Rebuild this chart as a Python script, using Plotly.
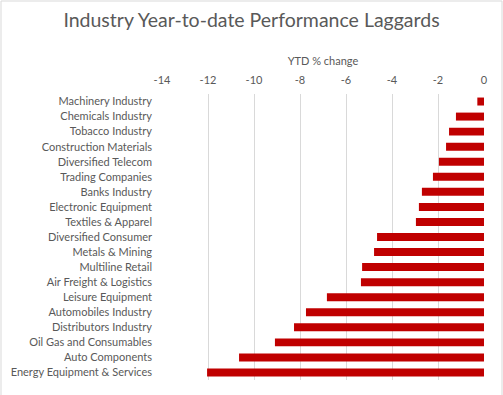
import plotly.graph_objects as go

categories = ["Machinery Industry", "Chemicals Industry", "Tobacco Industry", "Construction Materials",
              "Diversified Telecom", "Trading Companies", "Banks Industry", "Electronic Equipment",
              "Textiles & Apparel", "Diversified Consumer", "Metals & Mining", "Multiline Retail",
              "Air Freight & Logistics", "Leisure Equipment", "Automobiles Industry", "Distributors Industry",
              "Oil Gas and Consumables", "Auto Components", "Energy Equipment & Services"]
ytd_change = [-0.29, -1.22, -1.52, -1.65, -1.96, -2.22, -2.70, -2.83, -2.96, -4.65, -4.78, -5.30,
              -5.35, -6.83, -7.74, -8.26, -9.09, -10.65, -12.04]
tick_vals = [-14, -12, -10, -8, -6, -4, -2, 0]

W, H = 503, 395
L, R, T, B = 162, 19, 94, 15

fig = go.Figure(go.Bar(
    x=ytd_change, y=categories, orientation="h",
    marker=dict(color="#C00000", line=dict(width=0)),
    width=0.53,
))

pw = W - L - R
ph = H - T - B
fig.update_layout(
    width=W, height=H,
    margin=dict(l=L, r=R, t=T, b=B, pad=0, autoexpand=False),
    paper_bgcolor="white", plot_bgcolor="white",
    font=dict(family="Lato, Open Sans, sans-serif", color="#595959", size=11),
    title=dict(text="Industry Year-to-date Performance Laggards", x=0.5, xanchor="center",
               y=1 - 20 / H, yanchor="middle", font=dict(size=19.5, color="#595959")),
    showlegend=False,
    xaxis=dict(side="top", range=[-14, 0], tickvals=tick_vals, ticktext=[str(v) for v in tick_vals],
               showgrid=True, gridcolor="#D9D9D9", gridwidth=1, zeroline=False, showline=False,
               ticks="", ticklabelstandoff=7, automargin=False,
               title=dict(text="YTD % change", standoff=4, font=dict(size=11, color="#595959"))),
    yaxis=dict(autorange="reversed", showgrid=False, zeroline=False, showline=False, ticks="",
               ticklabelstandoff=9, automargin=False),
    shapes=[dict(type="rect", xref="paper", yref="paper",
                 x0=(1 - L) / pw, x1=(W - 1 - L) / pw,
                 y0=(B - H + 1) / ph, y1=(H - 1 - B) / ph,
                 line=dict(color="#D9D9D9", width=1), fillcolor="rgba(0,0,0,0)", layer="above")],
)

fig.write_html("out.html", config={"displayModeBar": False},
               post_script="document.body.style.margin='0';document.body.style.overflow='hidden';")
